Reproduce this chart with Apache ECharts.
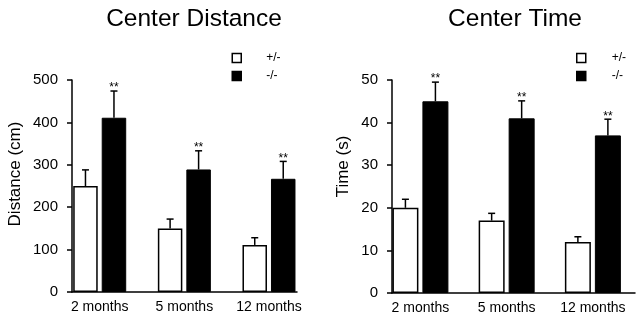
<!DOCTYPE html>
<html>
<head>
<meta charset="utf-8">
<script src="https://cdn.jsdelivr.net/npm/echarts@6/dist/echarts.min.js"></script>
<style>
  html, body { margin: 0; padding: 0; background: #fff; }
  #chart { width: 636px; height: 318px; }
</style>
</head>
<body>
<div id="chart"></div>
<script>
// 数据
const months = ['2 months', '5 months', '12 months'];
const groups = ['+/-', '-/-'];

// Center Distance (cm)
const distHet = [250, 150, 111];
const distHetSem = [38, 22, 17];
const distKo = [411, 289, 267];
const distKoSem = [63, 44, 41];
const distTicks = [0, 500, 100]; // min, max, interval

// Center Time (s)
const timeHet = [20, 17, 12];
const timeHetSem = [2, 1.7, 1.2];
const timeKo = [45, 41, 37];
const timeKoSem = [4.5, 4.1, 3.8];
const timeTicks = [0, 50, 10];

const stars = ['**', '**', '**'];

const FONT = "'Liberation Sans', Arial, sans-serif";

// 误差线 + 星号
function errRender(side, barW, gap, sig) {
    return function (params, api) {
        const cat = api.value(0);
        const mean = api.value(1);
        const sem = api.value(2);
        const base = api.coord([cat, mean]);
        const top = api.coord([cat, mean + sem]);
        const x = base[0] + side * (barW + gap) / 2;
        const children = [
            { type: 'line', shape: { x1: x, y1: base[1], x2: x, y2: top[1] }, style: { stroke: '#000', lineWidth: 1.5 } },
            { type: 'line', shape: { x1: x - 3.5, y1: top[1], x2: x + 3.5, y2: top[1] }, style: { stroke: '#000', lineWidth: 1.5 } }
        ];
        if (sig && sig[params.dataIndex]) {
            children.push({
                type: 'text', x: x, y: top[1] - 3,
                style: { text: sig[params.dataIndex], fontSize: 12, fontFamily: FONT, fill: '#000', align: 'center', verticalAlign: 'middle' }
            });
        }
        return { type: 'group', children: children };
    };
}

// 一个面板
function panel(p) {
    const g = p.index * 2;
    const grids = [
        { left: p.barLeft, right: p.barRight, top: 80, bottom: p.bottom },
        { left: p.axisLeft, right: p.axisRight, top: 80, bottom: p.bottom }
    ];
    const xAxes = [
        {
            type: 'category', gridIndex: g, data: months,
            axisLine: { show: false }, axisTick: { show: false },
            axisLabel: { color: '#000', fontSize: 14, fontFamily: FONT, margin: 8, interval: 0 }
        },
        {
            type: 'value', gridIndex: g + 1, min: 0, max: 1,
            axisLine: { show: true, lineStyle: { color: '#000', width: 1.5 } },
            axisTick: { show: false }, axisLabel: { show: false }, splitLine: { show: false }
        }
    ];
    const yAxes = [
        { type: 'value', gridIndex: g, min: p.ticks[0], max: p.ticks[1], show: false, splitLine: { show: false } },
        {
            type: 'value', gridIndex: g + 1, min: p.ticks[0], max: p.ticks[1], interval: p.ticks[2],
            name: p.yName, nameLocation: 'middle', nameGap: p.nameGap,
            nameTextStyle: { color: '#000', fontSize: 17, fontFamily: FONT, padding: [0, 0, 0, p.namePad] },
            axisLine: { show: true, lineStyle: { color: '#000', width: 1.5 } },
            axisTick: { show: true, length: 5, lineStyle: { color: '#000', width: 1.5 } },
            axisLabel: { color: '#000', fontSize: 15, fontFamily: FONT, margin: 14 },
            splitLine: { show: false }
        }
    ];
    const gapPct = (p.gap / p.barW * 100) + '%';
    const series = [
        {
            name: groups[0], type: 'bar', xAxisIndex: g, yAxisIndex: g,
            data: p.het, barWidth: p.barW, barGap: gapPct,
            itemStyle: { color: '#fff', borderColor: '#000', borderWidth: 1.5 }
        },
        {
            name: groups[1], type: 'bar', xAxisIndex: g, yAxisIndex: g,
            data: p.ko, barWidth: p.barW, barGap: gapPct,
            itemStyle: { color: '#000', borderColor: '#000', borderWidth: 1 }
        },
        {
            name: 'err-het', type: 'custom', xAxisIndex: g, yAxisIndex: g, z: 3, silent: true,
            renderItem: errRender(-1, p.barW, p.gap, null),
            data: months.map((m, i) => [i, p.het[i], p.hetSem[i]])
        },
        {
            name: 'err-ko', type: 'custom', xAxisIndex: g, yAxisIndex: g, z: 3, silent: true,
            renderItem: errRender(1, p.barW, p.gap, stars),
            data: months.map((m, i) => [i, p.ko[i], p.koSem[i]])
        }
    ];
    const title = {
        text: p.title, left: p.titleX, top: 7, textAlign: 'center', padding: 0,
        textStyle: { color: '#000', fontSize: 24.5, fontWeight: 'normal', fontFamily: FONT }
    };
    const legend = {
        data: groups, orient: 'vertical', left: p.legendX, top: 52, padding: 0,
        icon: 'rect', itemWidth: 9, itemHeight: 9, itemGap: 6,
        itemStyle: { borderWidth: 1.5 },
        textStyle: { color: '#000', fontSize: 12, fontFamily: FONT, padding: [0, 0, 0, p.legendPad] },
        selectedMode: false
    };
    return { grids, xAxes, yAxes, series, title, legend };
}

const left = panel({
    index: 0, title: 'Center Distance', titleX: 194, yName: 'Distance (cm)',
    barLeft: 57.4, barRight: 324.7, axisLeft: 72, axisRight: 339, bottom: 26,
    ticks: distTicks, nameGap: 48, namePad: 24,
    het: distHet, hetSem: distHetSem, ko: distKo, koSem: distKoSem,
    barW: 24.5, gap: 4, legendX: 231.5, legendPad: 20
});
const right = panel({
    index: 1, title: 'Center Time', titleX: 515, yName: 'Time (s)',
    barLeft: 377.3, barRight: -15.4, axisLeft: 392, axisRight: 1, bottom: 25,
    ticks: timeTicks, nameGap: 40, namePad: 40,
    het: timeHet, hetSem: timeHetSem, ko: timeKo, koSem: timeKoSem,
    barW: 26, gap: 4, legendX: 576, legendPad: 21
});

const chart = echarts.init(document.getElementById('chart'));
chart.setOption({
    animation: false,
    backgroundColor: '#fff',
    title: [left.title, right.title],
    legend: [left.legend, right.legend],
    grid: left.grids.concat(right.grids),
    xAxis: left.xAxes.concat(right.xAxes),
    yAxis: left.yAxes.concat(right.yAxes),
    series: left.series.concat(right.series)
});
</script>
</body>
</html>
